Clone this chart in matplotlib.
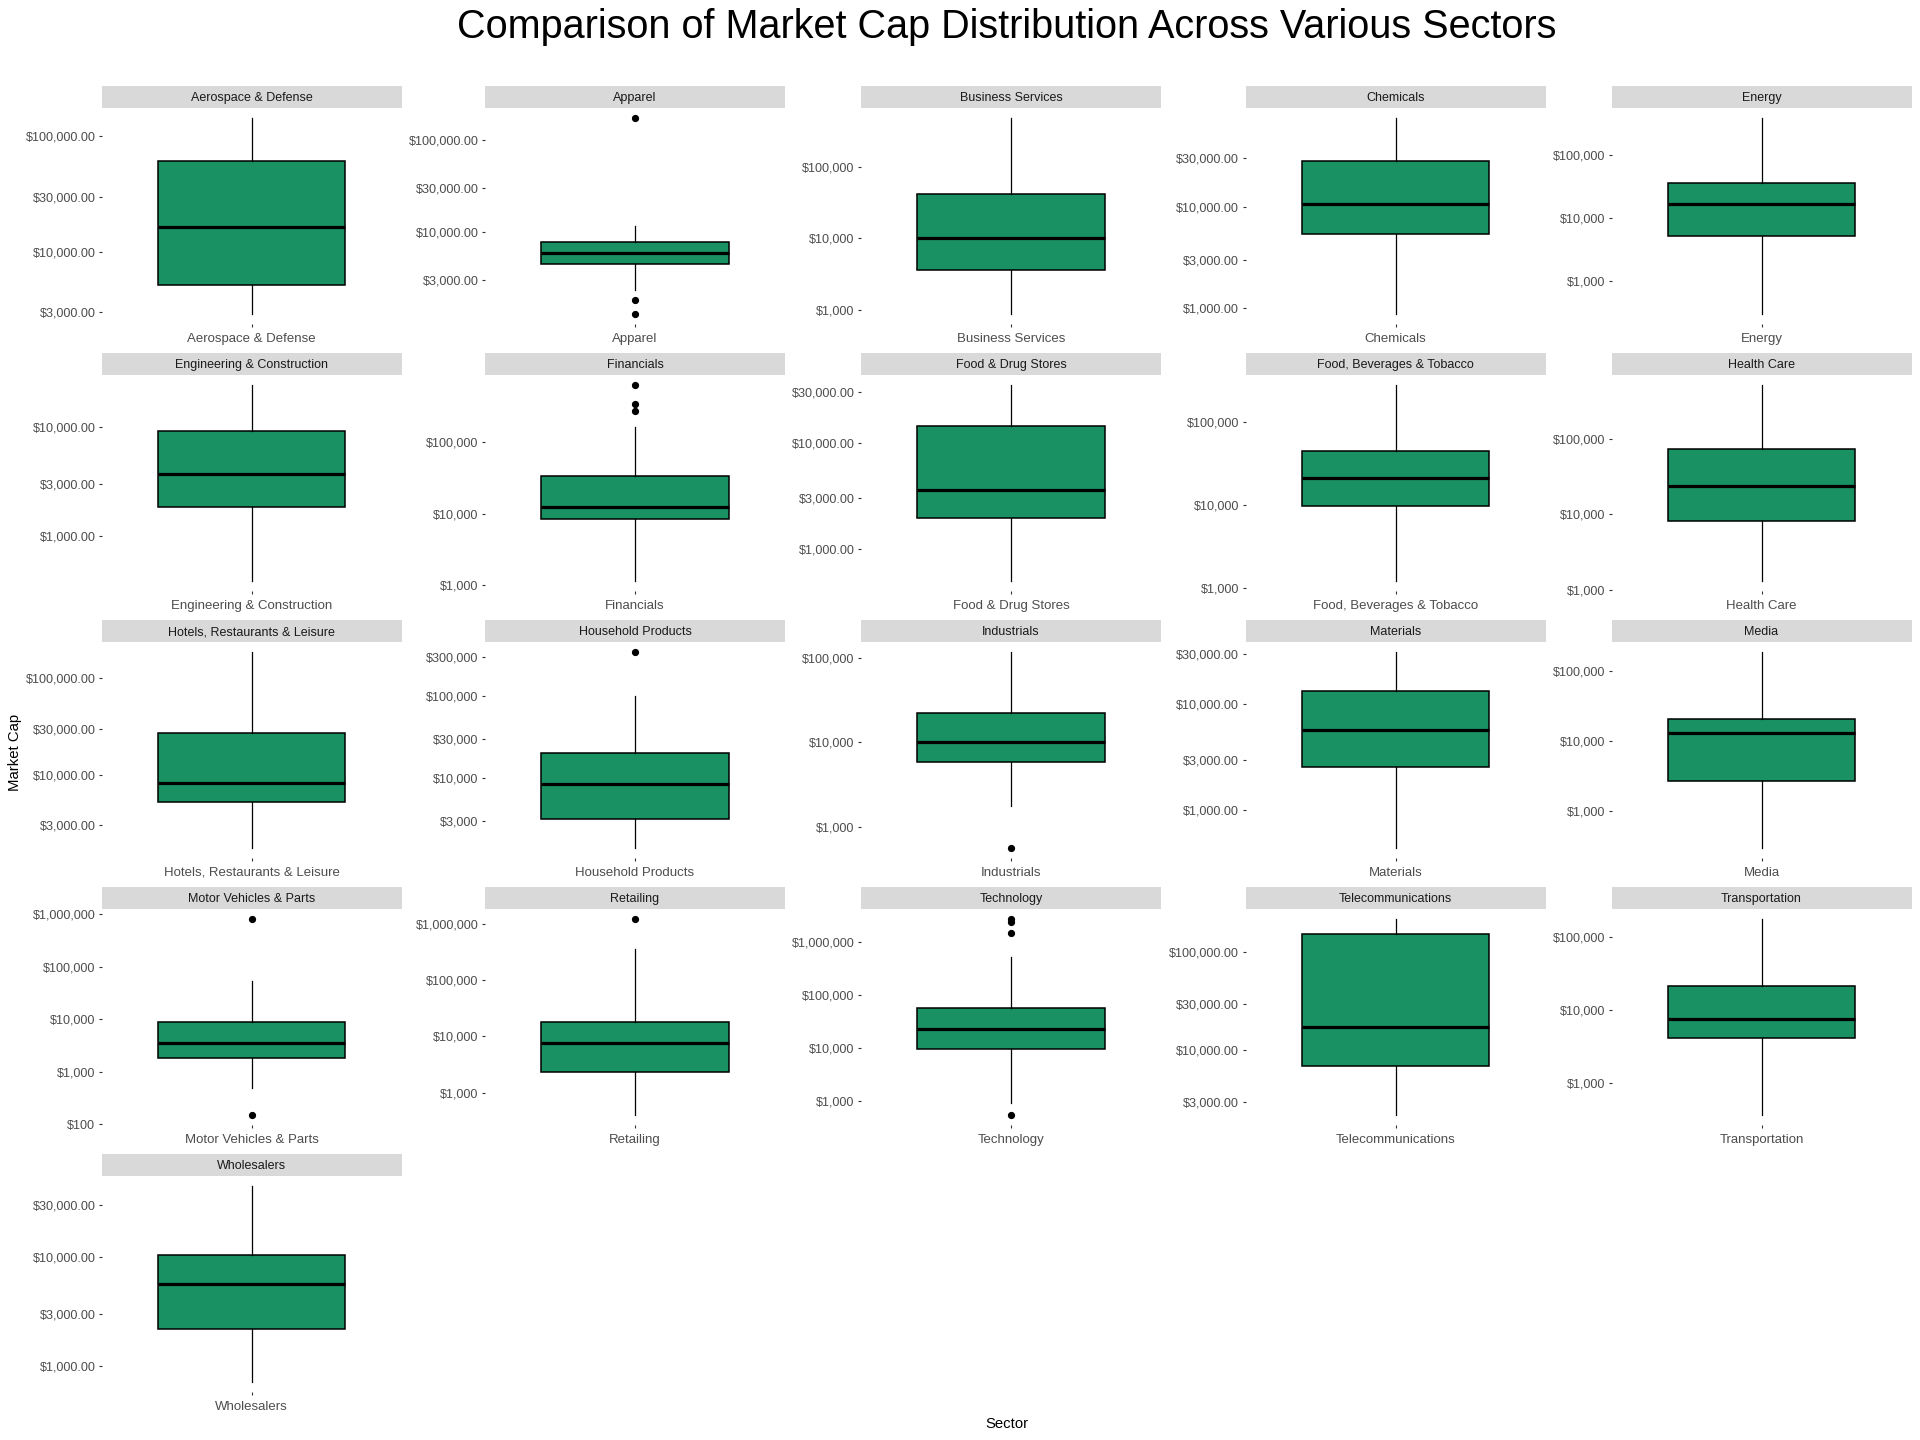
import numpy as np
import matplotlib
matplotlib.use("Agg")
import matplotlib.pyplot as plt
from matplotlib.ticker import FixedLocator, FixedFormatter, NullLocator

plt.rcParams['font.family'] = ['Liberation Sans', 'DejaVu Sans']

sectors = ["Aerospace & Defense", "Apparel", "Business Services", "Chemicals", "Energy",
           "Engineering & Construction", "Financials", "Food & Drug Stores",
           "Food, Beverages & Tobacco", "Health Care", "Hotels, Restaurants & Leisure",
           "Household Products", "Industrials", "Materials", "Media",
           "Motor Vehicles & Parts", "Retailing", "Technology", "Telecommunications",
           "Transportation", "Wholesalers"]

whislo = [2910, 2340, 880, 880, 305, 388, 1150, 500, 1215, 1306, 1746, 1390, 1740, 439, 299,
          481, 399, 930, 2205, 368, 711]
q1 = [5200, 4530, 3660, 5320, 5140, 1837, 8370, 1950, 9680, 8070, 5280, 3180, 5900, 2540, 2660,
      1834, 2370, 9580, 6920, 4090, 2160]
med = [16500, 5910, 10000, 10630, 16800, 3720, 12600, 3640, 21300, 24100, 8260, 8440, 10100, 5750,
       13150, 3590, 7600, 22400, 17400, 7600, 5600]
q3 = [61400, 7850, 41700, 28300, 35800, 9250, 33600, 14500, 44300, 73600, 26800, 20000, 22300,
      13400, 20400, 8900, 17800, 56200, 152600, 21100, 10360]
whishi = [144000, 11800, 490000, 74900, 388000, 24500, 166000, 35600, 280000, 530000, 187700,
          100000, 119000, 31600, 187000, 53400, 368000, 508000, 219000, 176000, 45200]
fliers = [[], [175000, 1840, 1295], [], [], [], [], [646000, 349000, 276000], [], [], [], [],
          [346000], [558], [], [], [826000, 149], [1262000], [2700000, 2350000, 1430000, 546],
          [], [], []]

yticks = [
    [3000, 10000, 30000, 100000],
    [3000, 10000, 30000, 100000],
    [1000, 10000, 100000],
    [1000, 3000, 10000, 30000],
    [1000, 10000, 100000],
    [1000, 3000, 10000],
    [1000, 10000, 100000],
    [1000, 3000, 10000, 30000],
    [1000, 10000, 100000],
    [1000, 10000, 100000],
    [3000, 10000, 30000, 100000],
    [3000, 10000, 30000, 100000, 300000],
    [1000, 10000, 100000],
    [1000, 3000, 10000, 30000],
    [1000, 10000, 100000],
    [100, 1000, 10000, 100000, 1000000],
    [1000, 10000, 100000, 1000000],
    [1000, 10000, 100000, 1000000],
    [3000, 10000, 30000, 100000],
    [1000, 10000, 100000],
    [1000, 3000, 10000, 30000],
]
decimals = [2, 2, 0, 2, 0, 2, 0, 2, 0, 0, 2, 0, 0, 2, 0, 0, 0, 0, 2, 0, 2]

title = "Comparison of Market Cap Distribution Across Various Sectors"
xlabel = "Sector"
ylabel = "Market Cap"

W, H = 1920, 1440
fig = plt.figure(figsize=(W / 100, H / 100), dpi=100)
fig.patch.set_facecolor('white')

col_left = [101.6, 485, 861, 1245.5, 1611.5]
panel_w = 300
strip_top0 = 85.7
strip_h = 22.1
panel_h = 216
row_pitch = 267

fill = '#199162'

for i, name in enumerate(sectors):
    r, c = divmod(i, 5)
    left = col_left[c]
    stop = strip_top0 + r * row_pitch
    ptop = stop + strip_h
    # strip
    sax = fig.add_axes([left / W, 1 - ptop / H, panel_w / W, strip_h / H])
    sax.set_facecolor('#D9D9D9')
    sax.set_xticks([]); sax.set_yticks([])
    for s in sax.spines.values():
        s.set_visible(False)
    sax.text(0.5, 0.44, name, ha='center', va='center', fontsize=9, color='#1A1A1A',
             transform=sax.transAxes)
    # panel
    ax = fig.add_axes([left / W, 1 - (ptop + panel_h) / H, panel_w / W, panel_h / H])
    stats = [dict(whislo=whislo[i], q1=q1[i], med=med[i], q3=q3[i], whishi=whishi[i],
                  fliers=fliers[i], label=name)]
    ax.bxp(stats, positions=[1], widths=0.75, patch_artist=True, showcaps=False,
           boxprops=dict(facecolor=fill, edgecolor='black', linewidth=1.1),
           medianprops=dict(color='black', linewidth=2.3),
           whiskerprops=dict(color='black', linewidth=0.9),
           flierprops=dict(marker='o', markerfacecolor='black', markeredgecolor='black',
                           markersize=4.2, linestyle='none'))
    ax.set_yscale('log')
    vals = [whislo[i], whishi[i]] + list(fliers[i])
    lo, hi = np.log10(min(vals)), np.log10(max(vals))
    pad = 0.05 * (hi - lo)
    ax.set_ylim(10 ** (lo - pad), 10 ** (hi + pad))
    ax.set_xlim(0.4, 1.6)
    ax.yaxis.set_major_locator(FixedLocator(yticks[i]))
    fmt = "${:,.2f}" if decimals[i] == 2 else "${:,.0f}"
    ax.yaxis.set_major_formatter(FixedFormatter([fmt.format(v) for v in yticks[i]]))
    ax.yaxis.set_minor_locator(NullLocator())
    ax.set_xticks([1])
    ax.set_xticklabels([name])
    ax.tick_params(axis='y', length=2.5, width=0.8, color='#333333', labelcolor='#4D4D4D',
                   labelsize=9.1, pad=2)
    ax.tick_params(axis='x', length=2.5, width=0.8, color='#333333', labelcolor='#4D4D4D',
                   labelsize=9.5, pad=4)
    for s in ax.spines.values():
        s.set_visible(False)
    ax.set_facecolor('white')

fig.text(1007 / W, 1 - 27 / H, title, ha='center', va='center', fontsize=28.5, color='black')
fig.text(1006.5 / W, 1 - 1424 / H, xlabel, ha='center', va='center', fontsize=10.7, color='black')
fig.text(15 / W, 1 - 752 / H, ylabel, ha='center', va='center', rotation=90, fontsize=10.7,
         color='black')

fig.savefig("out.png", dpi=100)
